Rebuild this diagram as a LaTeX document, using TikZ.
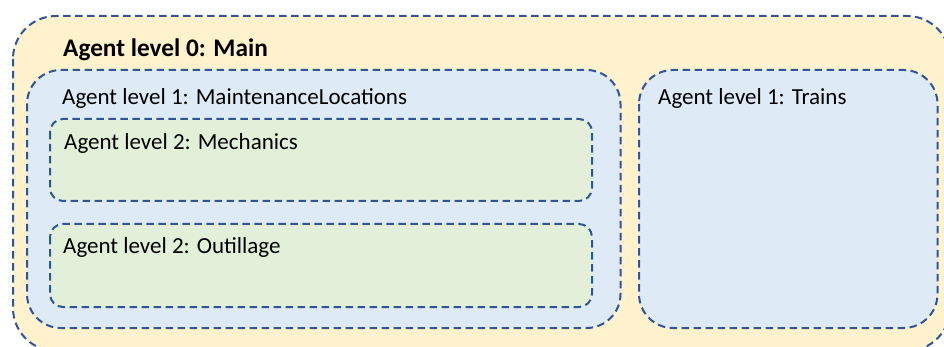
\documentclass[tikz,border=0pt]{standalone}
\usepackage{fontspec}
\setmainfont{Carlito}
\begin{document}
\begin{tikzpicture}[x=1pt,y=-1pt,
  frame/.style={draw=boxline, line width=2pt, dash pattern=on 7.5pt off 4.5pt},
  lvlzero/.style={frame, fill=lvl0fill, rounded corners=43pt},
  lvlone/.style={frame, fill=lvl1fill, rounded corners=34pt},
  lvltwo/.style={frame, fill=lvl2fill, rounded corners=13pt},
  title/.style={anchor=base west, inner sep=0pt, font=\fontsize{23}{27}\selectfont},
  maintitle/.style={anchor=base west, inner sep=0pt, font=\fontsize{25.3}{30}\selectfont\bfseries}]
\definecolor{boxline}{HTML}{2F5597}
\definecolor{lvl0fill}{HTML}{FFF2CC}
\definecolor{lvl1fill}{HTML}{DEEBF7}
\definecolor{lvl2fill}{HTML}{E2F0D9}
\useasboundingbox (0,0) rectangle (944,347);
\begin{scope}
  \clip (0,0) rectangle (944,347);
  % level 0 container
  \draw[lvlzero] (13,16) rectangle (950,351);
  % level 1 containers
  \draw[lvlone] (27,70) rectangle (620.5,328);
  \draw[lvlone] (639,70) rectangle (937.5,328);
  % level 2 containers
  \draw[lvltwo] (50,119) rectangle (592,201);
  \draw[lvltwo] (50,224) rectangle (592,307);
\end{scope}
\node[maintitle] (main) at (63,57) {Agent level 0: Main};
\node[title] (maint) at (62,105) {Agent level 1: MaintenanceLocations};
\node[title] (trains) at (658,105) {Agent level 1: Trains};
\node[title] (mech) at (64,150) {Agent level 2: Mechanics};
\node[title] (outil) at (63,254) {Agent level 2: Outillage};
\end{tikzpicture}
\end{document}
